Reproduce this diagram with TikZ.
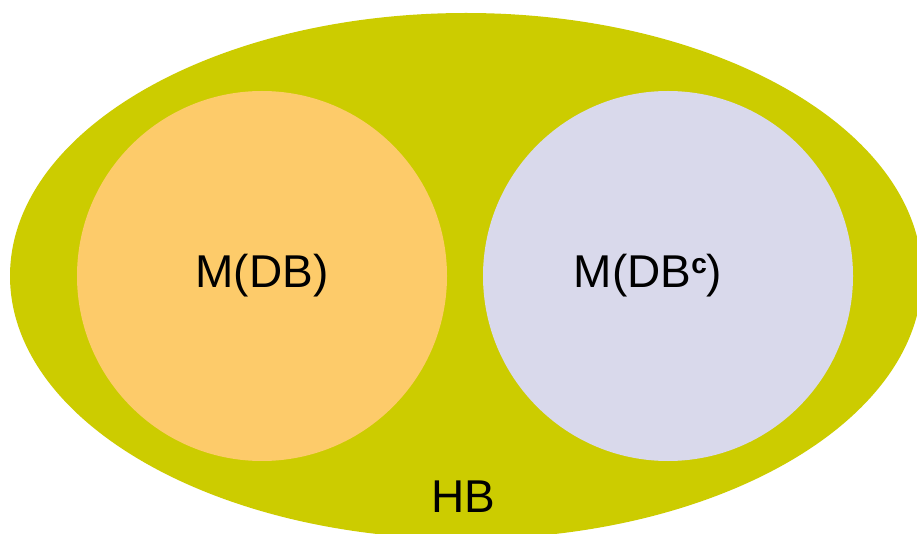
\documentclass[tikz,border=0pt]{standalone}
\usepackage{fontspec}
\setmainfont{Liberation Sans}
\usepackage{tikz}
\usetikzlibrary{positioning,shapes.geometric}
\definecolor{hbolive}{RGB}{204,204,0}
\definecolor{dborange}{RGB}{253,203,106}
\definecolor{dblav}{RGB}{217,217,235}
\tikzset{
  modelcirc/.style={circle, inner sep=0pt, minimum size=370pt},
  basebox/.style={ellipse, inner sep=0pt, fill=hbolive,
    minimum width=912pt, minimum height=526pt},
  bigtext/.style={font=\fontsize{46pt}{50pt}\selectfont, inner sep=0pt},
}
\begin{document}
\begin{tikzpicture}[x=1pt, y=-1pt]
  \useasboundingbox (0,0) rectangle (917,534);
  \clip (0,0) rectangle (917,534);
  \fill[white] (0,0) rectangle (917,534);

  % Herbrand base
  \node[basebox] (hb) at (466,276) {};

  % models
  \node[modelcirc, fill=dborange] (mdb) at (262,276) {};
  \node[modelcirc, fill=dblav] (mdbc) at (668,276) {};

  % labels
  \node[bigtext] (mdblabel) at (mdb.center) {M(DB)};
  \node[bigtext] (mdbclabel) at ([xshift=-20pt]mdbc.center)
    {M(DB{\fontsize{28pt}{28pt}\selectfont\bfseries\raisebox{14pt}{c}})};
  \node[bigtext] (hblabel) at (463,497) {HB};
\end{tikzpicture}
\end{document}
